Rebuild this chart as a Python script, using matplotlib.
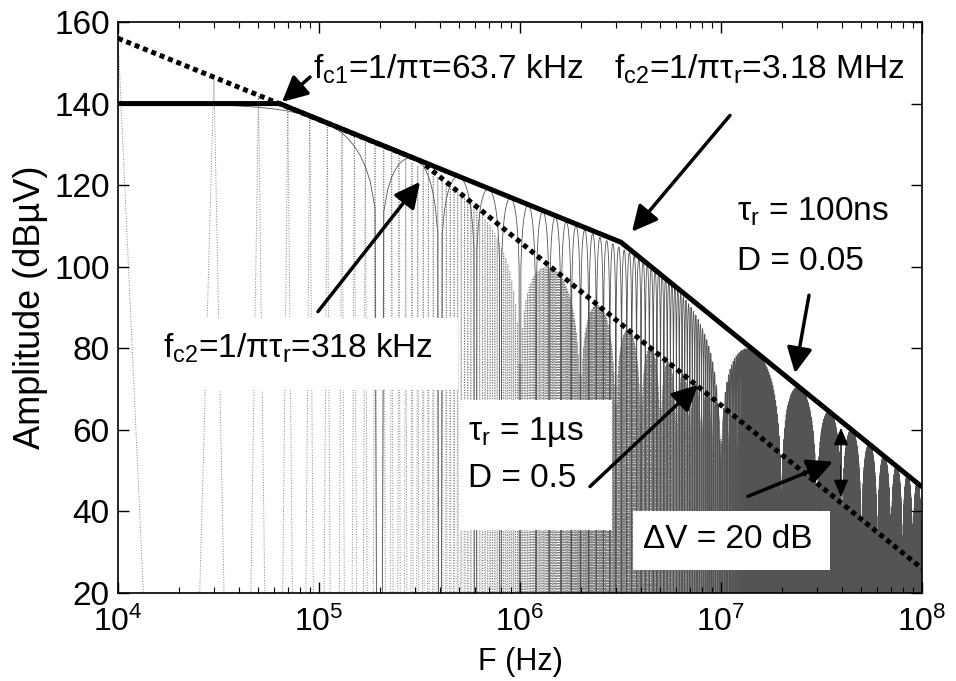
import numpy as np
import matplotlib
matplotlib.use("Agg")
import matplotlib.pyplot as plt
from matplotlib.patches import Rectangle

plt.rcParams['font.family'] = ['Liberation Sans', 'DejaVu Sans']
plt.rcParams['mathtext.fontset'] = 'custom'
plt.rcParams['mathtext.rm'] = 'Liberation Sans'
plt.rcParams['mathtext.it'] = 'Liberation Sans:italic'
plt.rcParams['mathtext.bf'] = 'Liberation Sans:bold'

# trapezoid pulse train, parameters as written on the chart
f0 = 10e3            # repetition frequency (Hz)
n_harm = 10000       # harmonics up to 100 MHz
amp_uv = 1e8         # pulse amplitude in uV (140 dBuV flat level at D=0.05)
duty = [0.5, 0.05]
rise = [1e-6, 100e-9]

# asymptotic envelopes
env_a_f = [1e4, 6.37e4, 3.18e6, 1e8]
env_a_db = [140, 140, 106, 46]
env_b_f = [1e4, 3.18e5, 1e8]
env_b_db = [156, 126, 26]

W, H = 956, 681
fig = plt.figure(figsize=(W / 100, H / 100), dpi=100)
L, R, T, B = 118, 922, 22, 593
ax = fig.add_axes([L / W, 1 - B / H, (R - L) / W, (B - T) / H])


def fr(px, db):
    # pixel column and dB level -> axes fraction
    return ((px - L) / (R - L), (db - 20) / 140)


n = np.arange(1, n_harm + 1)
f = n * f0
styles = [dict(ls=':', lw=0.7, color='0.5'), dict(ls='-', lw=0.6, color='0.33')]
for d, tr, st in zip(duty, rise, styles):
    c = 2 * amp_uv * d * np.abs(np.sinc(n * d)) * np.abs(np.sinc(n * tr * f0))
    db = 20 * np.log10(c + 1e-30)
    ax.plot(f, db, zorder=1, **st)

ax.plot(env_a_f, env_a_db, color='k', lw=3.6, zorder=3, solid_capstyle='butt')
ax.plot(env_b_f, env_b_db, color='k', lw=3.6, zorder=3, dashes=(1, 0.8))

fs = 24
ax.set_xscale('log')
ax.set_xlim(1e4, 1e8)
ax.set_ylim(20, 160)
ax.set_yticks(range(20, 161, 20))
ax.tick_params(which='both', direction='in', top=True, right=True)
ax.tick_params(axis='y', pad=6, labelsize=fs)
ax.tick_params(axis='x', pad=10, labelsize=23)
ax.tick_params(which='major', length=8, width=1)
ax.tick_params(which='minor', length=4, width=0.8)
for s in ax.spines.values():
    s.set_linewidth(1.2)
ax.set_xlabel('F (Hz)', fontsize=22)
ax.xaxis.set_label_coords(0.5, (B - 647) / (B - T))
ax.set_ylabel('Amplitude (dBµV)', fontsize=26)
ax.yaxis.set_label_coords(fr(48, 0)[0], 0.5)

# white boxes behind labels: (x0, x1) in pixels, (low, high) in dB
for x0, x1, d0, d1 in [(148, 458, 69.8, 87.4), (460, 612, 35.5, 67.3), (633, 830, 25.7, 40.0)]:
    a0, b0 = fr(x0, d0)
    a1, b1 = fr(x1, d1)
    ax.add_patch(Rectangle((a0, b0), a1 - a0, b1 - b0, transform=ax.transAxes,
                           facecolor='white', edgecolor='none', zorder=4))

labels = [((313, 148.5), r'f$_{\rm c1}$=1/πτ=63.7 kHz'),
          ((614, 148.5), r'f$_{\rm c2}$=1/πτ$_{\rm r}$=3.18 MHz'),
          ((163, 80.0), r'f$_{\rm c2}$=1/πτ$_{\rm r}$=318 kHz'),
          ((737, 113.5), r'τ$_{\rm r}$ = 100ns'),
          ((737, 101.2), 'D = 0.05'),
          ((468, 59.5), r'τ$_{\rm r}$ = 1µs'),
          ((468, 48.0), 'D = 0.5'),
          ((643, 33.1), 'ΔV = 20 dB')]
for (px, dv), s in labels:
    ax.text(*fr(px, dv), s, transform=ax.transAxes, fontsize=fs,
            va='center', ha='left', zorder=5)

arrows = [((310, 146.5), (282, 140.4)),
          ((318, 89.0), (420, 120.8)),
          ((730, 137.1), (632, 108.6)),
          ((809, 93.0), (795, 73.9)),
          ((590, 46.1), (698, 71.0)),
          ((748, 43.7), (833, 52.2))]
for tail, head in arrows:
    ax.annotate('', xy=fr(*head), xytext=fr(*tail), xycoords='axes fraction',
                textcoords='axes fraction', zorder=6,
                arrowprops=dict(arrowstyle='-|>,head_length=0.7,head_width=0.35',
                                lw=2.5, color='k', mutation_scale=22,
                                shrinkA=0, shrinkB=0))
ax.annotate('', xy=fr(841, 60.5), xytext=fr(841, 43.5), xycoords='axes fraction',
            textcoords='axes fraction', zorder=6,
            arrowprops=dict(arrowstyle='<|-|>,head_length=0.6,head_width=0.25',
                            lw=1.0, color='k', mutation_scale=18,
                            shrinkA=0, shrinkB=0))

fig.savefig('out.png', dpi=100)
